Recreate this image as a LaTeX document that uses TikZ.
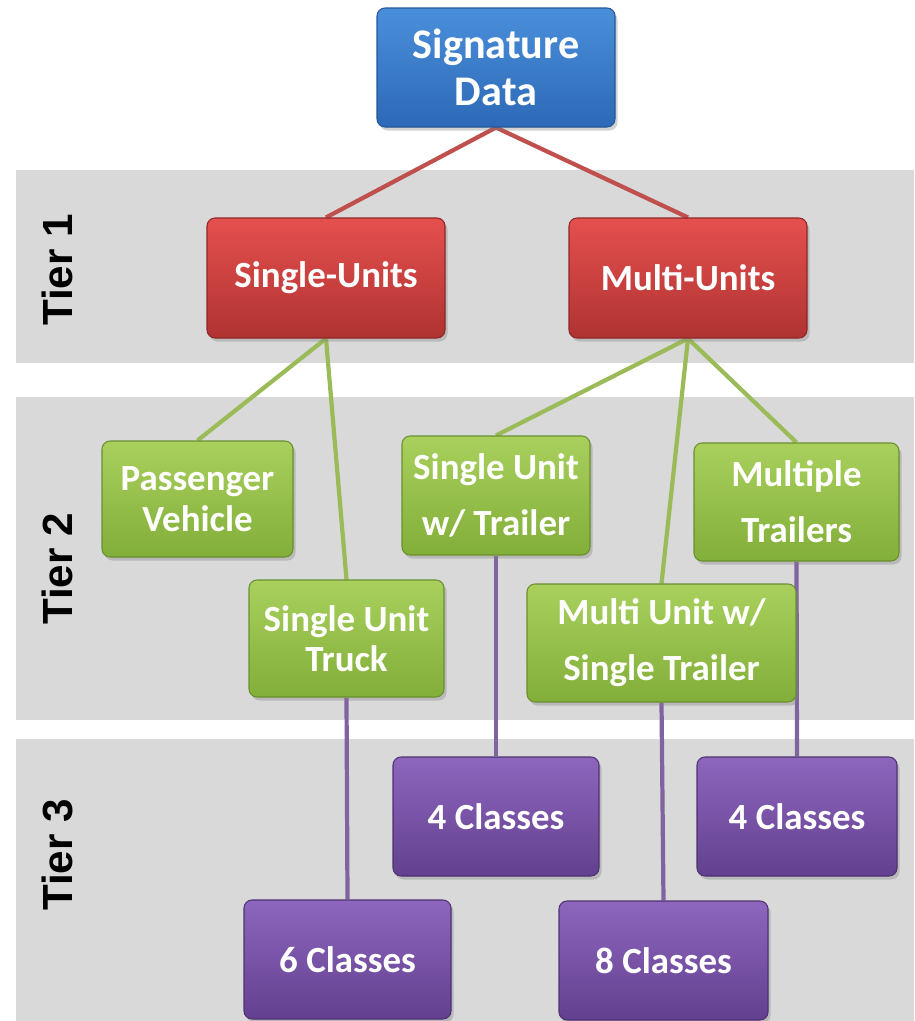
\documentclass[tikz,border=0pt]{standalone}
\usepackage{fontspec}
\setmainfont{Carlito}
\newfontfamily\tierfont{Liberation Sans}
\usetikzlibrary{shadows}
\pgfdeclarelayer{back}
\pgfdeclarelayer{mid}
\pgfsetlayers{back,mid,main}
\definecolor{band}{HTML}{D9D9D9}
\definecolor{bluetop}{HTML}{4A8FDB}
\definecolor{bluebot}{HTML}{2D69B6}
\definecolor{bluedr}{HTML}{24579A}
\definecolor{redtop}{HTML}{E5504E}
\definecolor{redbot}{HTML}{AF3332}
\definecolor{reddr}{HTML}{8E2828}
\definecolor{greentop}{HTML}{A9D05C}
\definecolor{greenbot}{HTML}{82AE3A}
\definecolor{greendr}{HTML}{6A8F2E}
\definecolor{purptop}{HTML}{8D66BD}
\definecolor{purpbot}{HTML}{63408F}
\definecolor{purpdr}{HTML}{4E3272}
\definecolor{redln}{HTML}{C0504D}
\definecolor{greenln}{HTML}{9BBB59}
\definecolor{purpln}{HTML}{8064A2}
\tikzset{
  box/.style={rounded corners=0.16cm, line width=0.6pt, text=white, align=center,
    inner sep=0pt, drop shadow={shadow xshift=0.05cm, shadow yshift=-0.07cm, opacity=0.35}},
  lead/.style={font=\bfseries\fontsize{21}{#1}\selectfont},
  sz/.style 2 args={minimum width=#1*0.02cm, minimum height=#2*0.02cm},
  bluebox/.style={box, draw=bluedr, top color=bluetop, bottom color=bluebot},
  redbox/.style={box, draw=reddr, top color=redtop, bottom color=redbot},
  greenbox/.style={box, draw=greendr, top color=greentop, bottom color=greenbot},
  purpbox/.style={box, draw=purpdr, top color=purptop, bottom color=purpbot},
  conn/.style={line width=2.4pt, draw=#1},
  tier/.style={rotate=90, font=\tierfont\bfseries\fontsize{24}{28}\selectfont, text=black}
}
\begin{document}
\begin{tikzpicture}[x=0.02cm, y=-0.02cm]
\useasboundingbox (0,0) rectangle (914,1021);
\begin{pgfonlayer}{back}
  \fill[band] (16,170) rectangle (914,363);
  \fill[band] (16,397) rectangle (914,720);
  \fill[band] (16,739) rectangle (914,1021);
\end{pgfonlayer}
\node[tier] (t1) at (57,270) {Tier 1};
\node[tier] (t2) at (57,569) {Tier 2};
\node[tier] (t3) at (57,855) {Tier 3};

\node[bluebox, sz={238}{119}, font=\bfseries\fontsize{24}{26.5}\selectfont] (sig) at (496,67.5) {Signature\\Data};
\node[redbox, sz={238}{120}, lead=26pt] (su) at (326,278) {Single-Units};
\node[redbox, sz={238}{120}, lead=26pt] (mu) at (688,278) {Multi-Units};
\node[greenbox, sz={191}{116}, lead=23pt] (pv) at (197.5,499) {Passenger\\Vehicle};
\node[greenbox, sz={188}{119}, lead=32pt] (suwt) at (496,495.5) {Single Unit\\w/ Trailer};
\node[greenbox, sz={205}{118}, lead=32pt] (mt) at (796.5,502) {Multiple\\Trailers};
\node[greenbox, sz={195}{117}, lead=23pt] (sut) at (346.5,638.5) {Single Unit\\Truck};
\node[greenbox, sz={269}{118}, lead=32pt] (must) at (661.5,643) {Multi Unit w/\\Single Trailer};
\node[purpbox, sz={206}{119}, lead=26pt] (c4a) at (496,816.5) {4 Classes};
\node[purpbox, sz={200}{119}, lead=26pt] (c4b) at (797,816.5) {4 Classes};
\node[purpbox, sz={207}{119}, lead=26pt] (c6) at (347.5,959.5) {6 Classes};
\node[purpbox, sz={209}{119}, lead=26pt] (c8) at (663.5,960.5) {8 Classes};

\begin{pgfonlayer}{mid}
  \draw[conn=redln] (sig.south) -- (su.north);
  \draw[conn=redln] (sig.south) -- (mu.north);
  \draw[conn=greenln] (su.south) -- (pv.north);
  \draw[conn=greenln] (su.south) -- (sut.north);
  \draw[conn=greenln] (mu.south) -- (suwt.north);
  \draw[conn=greenln] (mu.south) -- (must.north);
  \draw[conn=greenln] (mu.south) -- (mt.north);
  \draw[conn=purpln] (sut.south) -- (c6.north);
  \draw[conn=purpln] (suwt.south) -- (c4a.north);
  \draw[conn=purpln] (must.south) -- (c8.north);
  \draw[conn=purpln] (mt.south) -- (c4b.north);
\end{pgfonlayer}
\end{tikzpicture}
\end{document}
